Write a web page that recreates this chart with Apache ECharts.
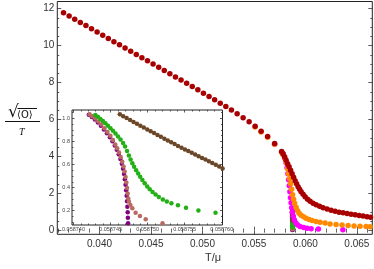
<!DOCTYPE html>
<html><head><meta charset="utf-8">
<script src="https://cdn.jsdelivr.net/npm/echarts@6/dist/echarts.min.js"></script>
<style>html,body{margin:0;padding:0;background:#fff}#c{width:374px;height:269px}</style>
</head><body><div id="c"></div>
<script>
// ---------- main plot data ----------
const redX = [0.036505,0.037049,0.037592,0.038136,0.038680,0.039223,0.039767,0.040311,0.040854,0.041398,0.041942,0.042485,0.043029,0.043573,0.044117,0.044660,0.045204,0.045748,0.046291,0.046835,0.047379,0.047922,0.048466,0.049010,0.049553,0.050097,0.050641,0.051184,0.051728,0.052272,0.052816,0.053369,0.053951,0.054534,0.055117,0.055699,0.056330,0.057010,0.057689,
  0.057835,0.057981,0.058126,0.058272,0.058417,0.058563,0.058709,0.058854,0.059000,0.059146,0.059291,0.059437,0.059583,0.059777,0.059971,0.060214,0.060456,0.060748,0.061039,0.061379,0.061718,0.062107,0.062495,0.062883,0.063272,0.063660,0.064049,0.064437,0.064825,0.065214,0.065602,0.065990,0.066330];
const redY = [11.771,11.597,11.424,11.251,11.077,10.904,10.731,10.558,10.384,10.211,10.038,9.865,9.691,9.518,9.345,9.172,8.998,8.825,8.652,8.479,8.305,8.132,7.959,7.786,7.607,7.423,7.244,7.066,6.881,6.703,6.513,6.318,6.102,5.885,5.642,5.371,5.089,4.705,4.277,
  4.153,3.990,3.801,3.611,3.449,3.259,3.070,2.880,2.691,2.528,2.366,2.231,2.106,1.960,1.825,1.689,1.581,1.483,1.391,1.310,1.240,1.164,1.094,1.040,0.996,0.958,0.920,0.888,0.850,0.818,0.785,0.753,0.726];
const orangeX = [0.055117,0.055699,0.056330,0.057010,0.057689,0.057835,0.058030,0.058156,0.058272,0.058369,0.058466,0.058563,0.058660,0.058757,0.058854,0.058951,0.059097,0.059243,0.059388,0.059583,0.059825,0.060068,0.060359,0.060650,0.061039,0.061427,0.061913,0.062398,0.062981,0.063563,0.064146,0.064728,0.065311,0.065893,0.066282];
const orangeY = [5.60,5.33,5.05,4.66,4.23,4.10,3.88,3.665,3.341,3.070,2.799,2.528,2.231,1.933,1.689,1.473,1.256,1.077,0.931,0.823,0.742,0.671,0.606,0.552,0.498,0.455,0.406,0.363,0.325,0.298,0.276,0.254,0.238,0.222,0.211];
const magentaX = [0.057010,0.057689,0.057835,0.057981,0.058126,0.058223,0.058301,0.058369,0.058437,0.058495,0.058553,0.058612,0.058670,0.058738,0.058825,0.058932,0.059078,0.059243,0.059485,0.059825,0.060165,0.060553,0.061262,0.063641];
const magentaY = [4.67,4.25,4.12,3.92,3.665,3.395,3.070,2.745,2.420,2.095,1.770,1.500,1.229,0.985,0.769,0.579,0.417,0.309,0.227,0.173,0.130,0.103,0.081,0.049];

// ---------- inset data (near T/mu = 0.05875) ----------
const greenX = [0.058742948,0.058743288,0.058743628,0.058743967,0.058744307,0.058744647,0.058744986,0.058745326,0.058745666,0.058746005,0.058746345,0.058746685,0.058746957,0.058747228,0.058747473,0.058747704,0.058747935,0.058748179,0.058748451,0.058748723,0.058748995,0.058749294,0.058749606,0.058749946,0.058750285,0.058750666,0.058751073,0.058751508,0.058752052,0.058752595,0.058753207,0.05875409,0.058755177,0.058756848,0.058759158];
const greenY = [1.0286,1.013,0.9948,0.9766,0.9567,0.9359,0.9143,0.8918,0.8684,0.8433,0.8165,0.7861,0.7558,0.7169,0.6779,0.6433,0.6104,0.5801,0.5498,0.5212,0.4935,0.4658,0.4381,0.4104,0.3861,0.3619,0.3394,0.3186,0.2970,0.2788,0.2641,0.2468,0.2260,0.2017,0.1827];
const brownX = [0.05874625,0.05874671,0.05874717,0.05874764,0.05874810,0.05874856,0.05874902,0.05874948,0.05874995,0.05875041,0.05875087,0.05875133,0.05875179,0.05875226,0.05875272,0.05875318,0.05875364,0.05875410,0.05875457,0.05875503,0.05875549,0.05875595,0.05875641,0.05875688,0.05875734,0.05875780,0.05875826,0.05875872,0.05875919,0.05875965,0.05876011];
const brownY = [1.0346,1.0182,1.0017,0.9853,0.9688,0.9524,0.9359,0.9195,0.9039,0.8874,0.8719,0.8554,0.8398,0.8234,0.8078,0.7922,0.7766,0.7610,0.7455,0.7307,0.7160,0.7013,0.6866,0.6719,0.6571,0.6424,0.6286,0.6139,0.5985,0.5820,0.5650];
const rosyX = [0.058742174,0.058742541,0.058742948,0.058743356,0.058743764,0.058744171,0.058744579,0.058744986,0.058745326,0.058745639,0.058745897,0.058746141,0.058746372,0.058746576,0.058746753,0.058746902,0.058747024,0.058747133,0.058747228,0.05874731,0.058747391,0.058747473,0.058747677,0.058747935,0.058748383,0.058748967,0.058749742,0.058752011];
const rosyY = [1.0346,1.0182,0.9974,0.9732,0.9455,0.9143,0.8814,0.8485,0.8121,0.7732,0.7403,0.7039,0.6649,0.6242,0.5827,0.5394,0.4918,0.4442,0.3965,0.3489,0.3056,0.2788,0.2502,0.2208,0.1827,0.1541,0.1255,0.0909];
const purpleX = [0.058742065,0.058742473,0.05874288,0.058743288,0.058743696,0.058744103,0.058744511,0.058744918,0.058745258,0.058745571,0.058745842,0.058746101,0.058746332,0.058746522,0.058746685,0.058746821,0.058746929,0.058747024,0.058747106,0.058747174,0.058747228,0.058747269,0.05874731,0.058747337,0.058747364,0.058747378];
const purpleY = [1.0303,1.0113,0.9887,0.9636,0.9351,0.9039,0.8710,0.8355,0.8009,0.7645,0.7273,0.6883,0.6476,0.6061,0.5628,0.5177,0.4719,0.4251,0.3775,0.3299,0.2823,0.2346,0.1870,0.1394,0.0918,0.0442];

// ---------- tick labels ----------
const mainXTicks = [0.040,0.045,0.050,0.055,0.060,0.065];
const mainYTicks = [0,2,4,6,8,10,12];
const insetXTicks = [0.058740,0.058745,0.058750,0.058755,0.058760];
const insetYTicks = [0.2,0.4,0.6,0.8,1.0];

function steps(a,b,s,excl){const o=[];for(let v=a;v<=b+s/1e6;v+=s){const r=Math.round(v/s)*s;if(!excl.some(e=>Math.abs(e-r)<s/100))o.push(r);}return o;}
const mainXMinor = steps(0.036,0.066,0.001,mainXTicks);
const mainYMinor = steps(0,12,0.5,mainYTicks);
const insetXMinor = steps(0.058740,0.058760,0.000001,insetXTicks);
const insetYMinor = steps(0.1,1.05,0.05,insetYTicks);

const C = {red:'#a80000',orange:'#ff8a00',magenta:'#ff00ff',green:'#22b014',brown:'#6b4728',purple:'#800080',rosy:'#b86a62'};
const pairs=(xs,ys)=>xs.map((x,i)=>[x,ys[i]]);
const tickCol='#333';

function axes(kind,grid,min,max,majors,minors,majLen,minLen,label){
  const pos = kind==='x'?['bottom','top']:['left','right'];
  const out=[];
  pos.forEach((p,pi)=>{
    [majors,minors].forEach((vals,mi)=>{
      out.push({type:'value',gridIndex:grid,position:p,min:min,max:max,
        axisLine:{show:false},splitLine:{show:false},
        axisTick:{show:true,inside:true,length:mi===0?majLen:minLen,customValues:vals,lineStyle:{color:tickCol,width:0.8}},
        axisLabel:(pi===0&&mi===0&&label)?Object.assign({show:true,customValues:vals,color:'#333',fontFamily:'Liberation Sans'},label):{show:false}
      });
    });
  });
  return out;
}

const xAxes = [].concat(
  axes('x',0,0.0359,0.0665,mainXTicks,mainXMinor,4,2,{fontSize:10,margin:5,formatter:v=>v.toFixed(3)}),
  axes('x',1,0.0587398,0.0587601,insetXTicks,insetXMinor,2.5,1.5,{fontSize:5.5,margin:1.5,color:'#444',formatter:v=>v.toFixed(6)})
);
const yAxes = [].concat(
  axes('y',0,-0.2,12.38,mainYTicks,mainYMinor,4,2,{fontSize:10,margin:3,formatter:v=>String(v)}),
  axes('y',1,0.076,1.072,insetYTicks,insetYMinor,2.5,1.5,{fontSize:5.5,margin:2,color:'#444',formatter:v=>v.toFixed(1)})
);

function sc(name,xs,ys,color,grid,size){
  return {type:'scatter',name:name,xAxisIndex:grid===0?0:4,yAxisIndex:grid===0?0:4,data:pairs(xs,ys),symbolSize:size,itemStyle:{color:color,opacity:1},clip:true,silent:true,animation:false,z:5};
}
const series=[
  sc('purple',purpleX,purpleY,C.purple,0,5), sc('rosy',rosyX,rosyY,C.rosy,0,5), sc('green',greenX,greenY,C.green,0,5), sc('brown',brownX,brownY,C.brown,0,5),
  sc('magenta',magentaX,magentaY,C.magenta,0,5.5), sc('orange',orangeX,orangeY,C.orange,0,5.5), sc('red',redX,redY,C.red,0,5.5),
  sc('purple',purpleX,purpleY,C.purple,1,4.5), sc('rosy',rosyX,rosyY,C.rosy,1,4.5), sc('green',greenX,greenY,C.green,1,4.5), sc('brown',brownX,brownY,C.brown,1,4.5)
];

const chart = echarts.init(document.getElementById('c'),null,{renderer:'canvas'});
chart.setOption({
  animation:false,
  backgroundColor:'#fff',
  grid:[
    {left:57.3,right:1.7,top:1.5,bottom:34.7,show:true,borderColor:'#222',borderWidth:1,backgroundColor:'transparent'},
    {left:72,right:151.5,top:110,bottom:44,show:true,borderColor:'#222',borderWidth:1,backgroundColor:'#fff'}
  ],
  xAxis:xAxes, yAxis:yAxes, series:series,
  graphic:[
    {type:'text',left:8,top:104,style:{text:'√',font:'17px DejaVu Sans',fill:'#111'}},
    {type:'line',shape:{x1:17.5,y1:108.5,x2:37,y2:108.5},style:{stroke:'#111',lineWidth:1}},
    {type:'text',left:17,top:110,style:{text:'⟨O⟩',font:'10px DejaVu Sans',fill:'#111'}},
    {type:'line',shape:{x1:5,y1:121.5,x2:40,y2:121.5},style:{stroke:'#111',lineWidth:1}},
    {type:'text',left:19,top:127,style:{text:'T',font:'italic 10px Liberation Serif',fill:'#111'}},
    {type:'text',left:205,top:252,style:{text:'T/μ',font:'11px Liberation Sans',fill:'#333'}}
  ]
});
</script></body></html>
